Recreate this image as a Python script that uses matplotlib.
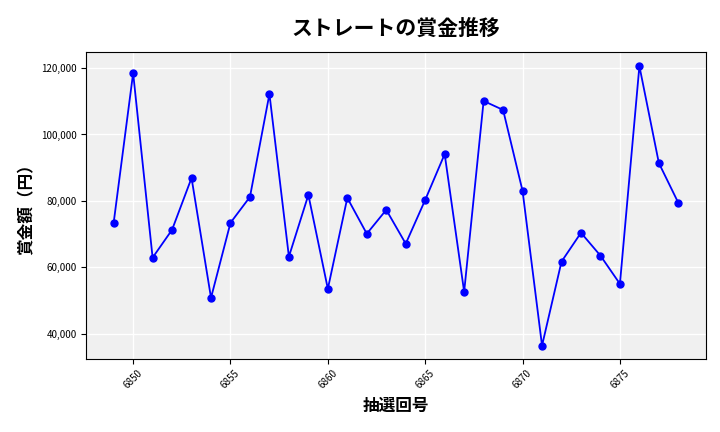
import matplotlib
matplotlib.use("Agg")
import matplotlib.pyplot as plt
from matplotlib.ticker import FuncFormatter

plt.rcParams['font.family'] = ['Noto Sans CJK JP', 'DejaVu Sans']

draws = list(range(6849, 6879))
prizes = [73400, 118500, 62900, 71300, 86900, 50800, 73400, 81200, 112200, 63200,
          81800, 53500, 80900, 70100, 77300, 67100, 80300, 94100, 52600, 110100,
          107400, 83000, 36400, 61700, 70400, 63500, 55000, 120600, 91400, 79400]

fig, ax = plt.subplots(figsize=(7.2, 4.32), dpi=100)
ax.set_facecolor('#f0f0f0')
ax.grid(True, color='white', linewidth=1)
ax.set_axisbelow(True)
ax.plot(draws, prizes, color='blue', marker='o', markersize=5, linewidth=1.3)
ax.set_title('ストレートの賞金推移', fontsize=15, fontweight='bold', pad=12)
ax.set_xlabel('抽選回号', fontsize=12, fontweight='bold')
ax.set_ylabel('賞金額（円）', fontsize=12, fontweight='bold')
ax.yaxis.set_major_formatter(FuncFormatter(lambda v, p: f'{int(v):,}'))
ax.set_xticks(range(6850, 6879, 5))
ax.tick_params(axis='x', labelrotation=45, labelsize=7)
ax.tick_params(axis='y', labelsize=7)
ax.set_ylim(32500, 124900)
ax.set_xlim(6847.6, 6879.4)
fig.subplots_adjust(left=0.12, right=0.98, top=0.88, bottom=0.17)
fig.savefig('out.png')
